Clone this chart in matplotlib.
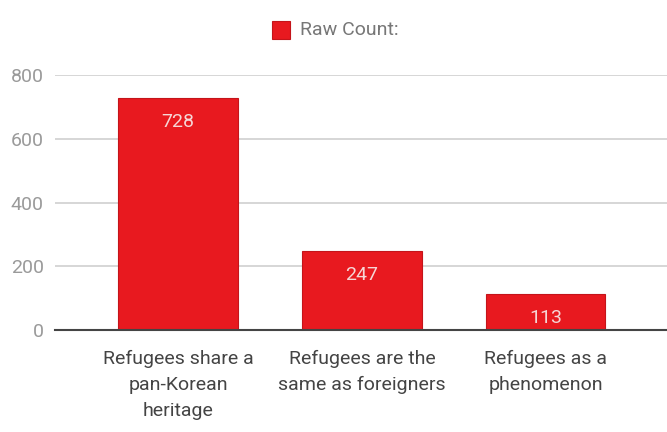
import matplotlib.pyplot as plt
from matplotlib.patches import Rectangle

categories = [
    "Refugees share a\npan-Korean\nheritage",
    "Refugees are the\nsame as foreigners",
    "Refugees as a\nphenomenon",
]
raw_counts = [728, 247, 113]
y_ticks = [0, 200, 400, 600, 800]
series_name = "Raw Count:"

BAR_RED = "#e8191f"

plt.rcParams["font.family"] = ["Roboto", "DejaVu Sans"]

fig = plt.figure(figsize=(6.67, 4.32), dpi=100)
ax = fig.add_axes([55 / 667, 1 - 330 / 432, 612 / 667, 255 / 432])

x = list(range(len(categories)))
bars = ax.bar(x, raw_counts, width=0.65, color=BAR_RED, edgecolor="#c4141a",
              linewidth=0.8, zorder=3)

for rect, val in zip(bars, raw_counts):
    ax.annotate(str(val), (rect.get_x() + rect.get_width() / 2, val),
                xytext=(0, -24), textcoords="offset pixels",
                ha="center", va="center", fontsize=14, color="#f6d6d6", zorder=4)

ax.set_xlim(-0.67, 2.66)
ax.set_ylim(0, 800)
ax.set_yticks(y_ticks)
ax.set_yticklabels([str(v) for v in y_ticks], fontsize=14, color="#9a9a9a")
ax.set_xticks(x)
ax.set_xticklabels(categories, fontsize=14, color="#444444", linespacing=1.6)
ax.tick_params(axis="both", length=0)
ax.tick_params(axis="x", pad=14)
ax.tick_params(axis="y", pad=8)

ax.grid(axis="y", color="#d0d0d0", linewidth=1.2, zorder=0)
for side in ("top", "right", "left"):
    ax.spines[side].set_visible(False)
ax.spines["bottom"].set_color("#444444")
ax.spines["bottom"].set_linewidth(1.5)
ax.spines["bottom"].set_zorder(5)

# legend at the top
fig.patches.append(Rectangle((272 / 667, 1 - 39 / 432), 18 / 667, 18 / 432,
                             transform=fig.transFigure, facecolor=BAR_RED,
                             edgecolor="#c4141a", linewidth=0.8))
fig.text(300 / 667, 1 - 30 / 432, series_name, fontsize=14, color="#777777",
         ha="left", va="center")

fig.savefig("out.png", dpi=100)
